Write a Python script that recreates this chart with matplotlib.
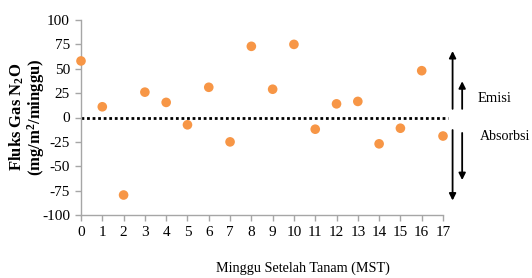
import matplotlib
matplotlib.use("Agg")
import matplotlib.pyplot as plt

plt.rcParams['font.family'] = ['Liberation Serif', 'DejaVu Serif']
plt.rcParams['mathtext.fontset'] = 'custom'
plt.rcParams['mathtext.rm'] = 'Liberation Serif:bold'
plt.rcParams['mathtext.it'] = 'Liberation Serif:bold'
plt.rcParams['mathtext.bf'] = 'Liberation Serif:bold'

# Minggu Setelah Tanam vs fluks N2O
mst = list(range(18))
fluks = [58, 11, -79.5, 26, 15.5, -7.5, 31, -25, 73, 29, 75, -12, 14, 16.5, -27, -11, 48, -19]
yticks = [100, 75, 50, 25, 0, -25, -50, -75, -100]

W, H = 532, 278
fig = plt.figure(figsize=(W / 100, H / 100), dpi=100)
ax = fig.add_axes([81 / W, 1 - 215 / H, (443 - 81) / W, (215 - 20) / H])

ax.scatter(mst, fluks, s=48, color='#f79646', edgecolors='none', zorder=3, clip_on=False)
ax.plot([0, 17.25], [0, 0], color='black', linestyle=(0, (1, 1)), lw=2, clip_on=False, zorder=2)

ax.set_xlim(0, 17)
ax.set_ylim(-100, 100)
ax.set_xticks(mst)
ax.set_yticks(yticks)
ax.set_yticklabels([str(v) for v in yticks])
for s in ['top', 'right']:
    ax.spines[s].set_visible(False)
for s in ['left', 'bottom']:
    ax.spines[s].set_color('#a6a6a6')
    ax.spines[s].set_linewidth(1)
ax.tick_params(axis='both', color='#a6a6a6', length=4, width=1, labelsize=11, colors='#a6a6a6',
               labelcolor='black', pad=4)

# panah emisi / absorbsi
def arrow(x, y0, y1):
    ax.annotate('', xy=(x, y1), xytext=(x, y0), xycoords='data',
                arrowprops=dict(arrowstyle='-|>', color='black', lw=1.3, mutation_scale=10),
                annotation_clip=False)

arrow(17.45, 6, 71)
arrow(17.45, -10, -88)
arrow(17.9, 6, 40)
arrow(17.9, -13, -67)
fig.text(478 / W, 1 - 98 / H, 'Emisi', fontsize=10.5, va='center', ha='left')
fig.text(480 / W, 1 - 137 / H, 'Absorbsi', fontsize=10.1, va='center', ha='left')

fig.text(27 / W, 1 - 117 / H, 'Fluks Gas N$_2$O\n(mg/m$^2$/minggu)', rotation=90, fontsize=12,
         fontweight='bold', ha='center', va='center', linespacing=0.95)
fig.text(303 / W, 1 - 268 / H, 'Minggu Setelah Tanam (MST)', fontsize=10.2, ha='center', va='center')

fig.savefig('out.png', dpi=100)
